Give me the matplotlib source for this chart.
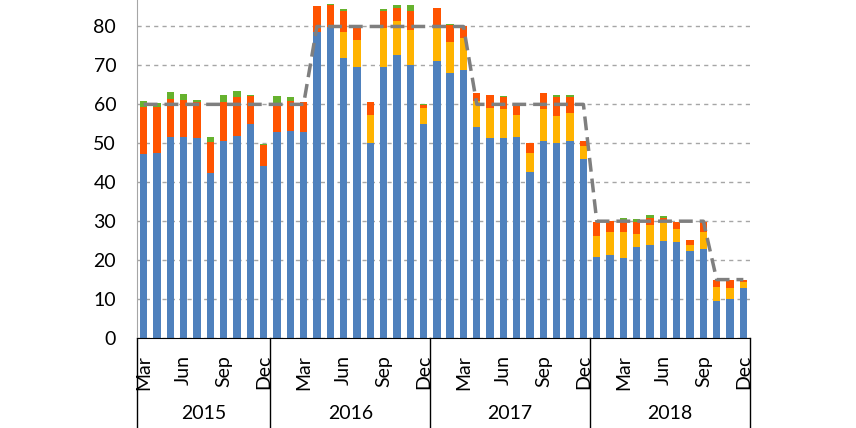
import matplotlib.pyplot as plt
import numpy as np

plt.rcParams['font.family'] = ['Lato', 'DejaVu Sans']

# monthly values, Mar 2015 .. Dec 2018
months = ['Mar', 'Apr', 'May', 'Jun', 'Jul', 'Aug', 'Sep', 'Oct', 'Nov', 'Dec'] + \
         ['Jan', 'Feb', 'Mar', 'Apr', 'May', 'Jun', 'Jul', 'Aug', 'Sep', 'Oct', 'Nov', 'Dec'] * 3
years = ['2015', '2016', '2017', '2018']
year_len = [10, 12, 12, 12]

blue = [47.2, 47.4, 51.5, 51.5, 51.3, 42.5, 50.6, 51.9, 54.9, 44.2,
        52.8, 53.2, 53.0, 78.5, 79.8, 71.9, 69.5, 50.2, 69.7, 72.8, 70.0, 54.9,
        71.1, 68.0, 68.7, 54.1, 51.3, 51.3, 51.7, 42.7, 50.5, 50.0, 50.5, 46.0,
        20.7, 21.4, 20.6, 23.4, 24.0, 24.9, 24.7, 22.3, 22.9, 9.6, 9.9, 12.8]
yellow = [0, 0, 0, 0, 0, 0, 0, 0, 0, 0,
          0, 0, 0, 0, 0, 6.6, 7.1, 7.1, 10.0, 8.6, 9.1, 4.2,
          8.7, 8.0, 8.4, 6.8, 7.8, 7.5, 5.6, 4.8, 8.2, 7.0, 7.4, 3.3,
          5.5, 5.8, 6.6, 3.2, 5.0, 5.2, 3.2, 1.7, 4.3, 3.6, 2.9, 1.5]
red = [12.2, 11.8, 9.9, 9.6, 9.2, 7.9, 9.9, 10.1, 7.2, 5.4,
       7.1, 7.7, 7.5, 6.7, 5.6, 5.4, 3.2, 3.2, 4.2, 3.4, 4.8, 0.8,
       5.0, 4.3, 2.9, 1.9, 3.3, 3.2, 2.6, 2.5, 4.1, 4.8, 3.9, 1.2,
       3.7, 2.9, 2.7, 3.1, 1.9, 0.8, 1.9, 1.1, 2.7, 1.8, 2.2, 0.5]
green = [1.5, 1.1, 1.7, 1.6, 0.6, 1.3, 2.0, 1.5, 0.4, 0.2,
         2.3, 1.1, 0, -0.4, 0.3, 0.6, 0, -0.4, 0.6, 0.6, 1.5, 0.3,
         0, 0.3, 0, -0.4, -0.4, 0.2, 0, -0.4, -0.4, 0.5, 0.7, -0.4,
         0, -0.4, 0.9, 0.8, 0.7, 0.5, 0, -0.4, -0.4, 0, 0, -0.4]
target = [60] * 10 + [60, 60, 60] + [80] * 9 + [80, 80, 80] + [60] * 9 + [30] * 9 + [15] * 3

x = np.arange(len(blue))
b = np.array(blue)
yl = np.array(yellow)
r = np.array(red)
g = np.array(green)

fig = plt.figure(figsize=(8.56, 4.28), dpi=100)
ax = fig.add_axes([137 / 856, 1 - 338 / 428, (750 - 137) / 856, 338 / 428])

w = 0.55
ax.bar(x, b, w, color='#4F81BD', zorder=2)
ax.bar(x, yl, w, bottom=b, color='#FFB300', zorder=2)
ax.bar(x, r, w, bottom=b + yl, color='#FF5300', zorder=2)
gb = np.where(g > 0, b + yl + r, 0)
ax.bar(x, g, w, bottom=gb, color='#66B22E', zorder=2)

ax.plot(x, target, color='#7F7F7F', lw=2.5, dashes=(4, 2), zorder=3)

ax.set_xlim(-0.5, len(x) - 0.5)
ax.set_ylim(0, 86.8)
ax.set_yticks(range(0, 81, 10))
ax.yaxis.grid(True, color='#A6A6A6', lw=1, linestyle=(0, (3, 3)), zorder=0)
ax.tick_params(axis='y', length=0, pad=15, labelsize=14)

tick_pos = [i for i in x if months[i] in ('Mar', 'Jun', 'Sep', 'Dec')]
ax.set_xticks(tick_pos)
ax.set_xticklabels([months[i] for i in tick_pos], rotation=90, va='top')
ax.tick_params(axis='x', length=0, pad=12, labelsize=14)

for s in ('top', 'right'):
    ax.spines[s].set_visible(False)
ax.spines['left'].set_color('#A6A6A6')
ax.spines['bottom'].set_color('black')

# year groups under the month labels
edges = np.concatenate([[0], np.cumsum(year_len)]) - 0.5
for e in edges:
    ax.plot([e, e], [0, -0.3], color='black', lw=1, clip_on=False,
            transform=ax.get_xaxis_transform())
for i, yr in enumerate(years):
    ax.text((edges[i] + edges[i + 1]) / 2, -0.222, yr, ha='center', va='center',
            fontsize=14, transform=ax.get_xaxis_transform())

fig.savefig('out.png', dpi=100)
